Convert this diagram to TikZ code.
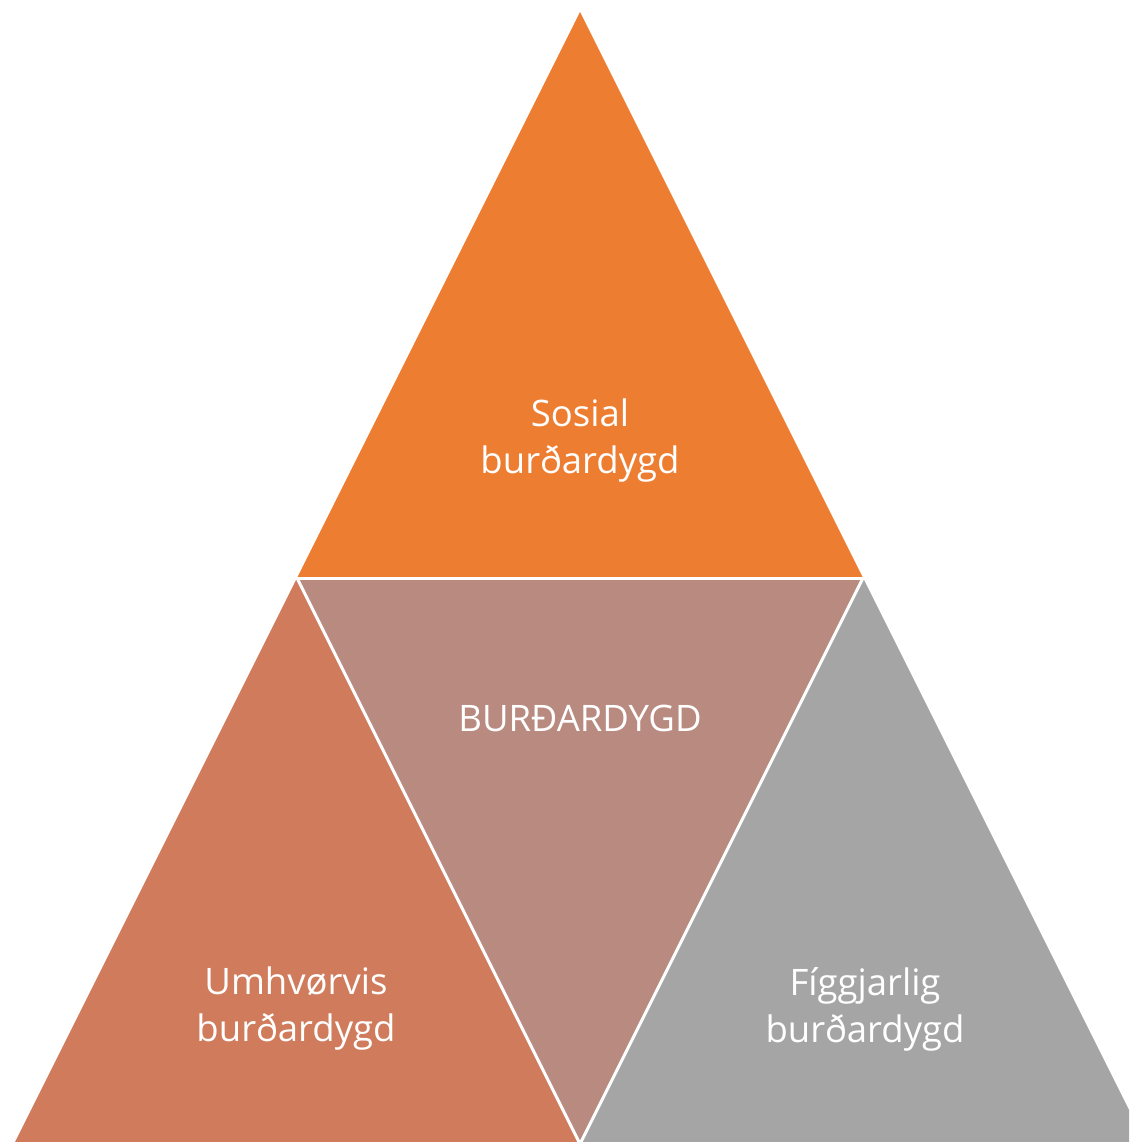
\documentclass[tikz,border=0pt]{standalone}
\usepackage{fontspec}
\setmainfont{Open Sans}
\definecolor{cOrange}{HTML}{ED7D31}
\definecolor{cMid}{HTML}{B98A80}
\definecolor{cLeft}{HTML}{D07B5C}
\definecolor{cGray}{HTML}{A5A5A5}
\tikzset{
  tri/.style={draw=white, line width=3pt, line join=miter},
  lbl/.style={text=white, font=\fontsize{36.5}{47}\selectfont, align=center, inner sep=0pt},
}
\begin{document}
\begin{tikzpicture}[x=1pt,y=-1pt]
\useasboundingbox (0,0) rectangle (1129,1142);
\clip (0,0) rectangle (1129,1142);
\coordinate (A) at (580,12);
\coordinate (B) at (297,578);
\coordinate (C) at (863,578);
\coordinate (D) at (14,1144);
\coordinate (E) at (580,1144);
\coordinate (F) at (1146,1144);
\fill[cOrange] (A) -- (B) -- (C) -- cycle;
\fill[cMid] (B) -- (C) -- (E) -- cycle;
\fill[cLeft] (B) -- (D) -- (E) -- cycle;
\fill[cGray] (C) -- (E) -- (F) -- cycle;
\draw[tri] (B) -- (C);
\draw[tri] (B) -- (E) -- (C);
\node[lbl] (soc) at (580,441) {Sosial\\burðardygd};
\node[lbl, anchor=base] (bur) at (580,731) {BURĐARDYGD};
\node[lbl] (umh) at (296,1009) {Umhvørvis\\burðardygd};
\node[lbl] (fig) at (865,1009) {Fíggjarlig\\burðardygd};
\end{tikzpicture}
\end{document}
